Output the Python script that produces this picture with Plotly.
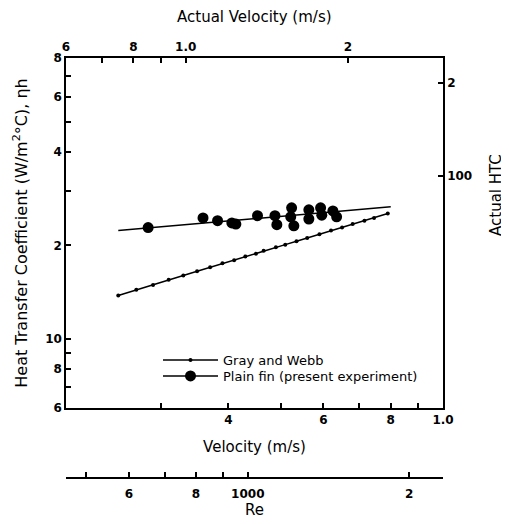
import math
import plotly.graph_objects as go

# ---------------- data ----------------
gw_v = [0.25, 0.27, 0.29, 0.31, 0.33, 0.35, 0.37, 0.39, 0.41, 0.43, 0.45, 0.465,
        0.49, 0.51, 0.535, 0.56, 0.59, 0.62, 0.65, 0.68, 0.715, 0.745, 0.79]
gw_h = [13.8, 14.4, 14.9, 15.5, 16.0, 16.5, 17.0, 17.5, 17.9, 18.4, 18.8, 19.2,
        19.7, 20.1, 20.6, 21.1, 21.7, 22.3, 22.8, 23.4, 24.0, 24.5, 25.3]

pf_v = [0.284, 0.359, 0.382, 0.406, 0.413, 0.453, 0.488, 0.492, 0.524, 0.522,
        0.529, 0.564, 0.564, 0.593, 0.596, 0.625, 0.635]
pf_h = [22.8, 24.5, 24.0, 23.6, 23.4, 24.9, 24.9, 23.3, 26.4, 24.7,
        23.1, 26.0, 24.3, 26.4, 25.0, 25.8, 24.7]

fit_v = [0.25, 0.80]
fit_h = [22.3, 26.6]

vel_ticks = [0.3, 0.4, 0.5, 0.6, 0.7, 0.8, 0.9, 1.0]
vel_labels = ["", "4", "", "6", "", "8", "", "1.0"]
act_vel_ticks = [0.6, 0.7, 0.8, 0.9, 1.0, 2.0, 3.0]
act_vel_labels = ["6", "", "8", "", "1.0", "2", ""]
htc_ticks = [6, 7, 8, 9, 10, 20, 30, 40, 50, 60, 70, 80]
htc_labels = ["6", "", "8", "", "10", "2", "", "4", "", "6", "", "8"]
act_htc_ticks = [100, 200]
act_htc_labels = ["100", "2"]
re_ticks = [500, 600, 700, 800, 900, 1000, 2000]
re_labels = ["", "6", "", "8", "", "1000", "2"]

vel_range = [0.2, 1.0]
act_vel_range = [0.6, 3.0]
htc_range = [6, 80]
act_htc_range = [18, 240]
re_range = [458, 2313]

# ---------------- figure ----------------
OFF = 8                      # page body margin of the browser
W, H = 509 - OFF, 524 - OFF
ml, mr, mt, mb = 60 - OFF, 66, 58 - OFF, 46
pw, ph = W - ml - mr, H - mt - mb
x_dom0 = 6 / pw
y_dom0 = (478 - 408) / ph


def px(X):   # reference pixel -> paper x
    return (X - 60) / pw


def py(Y):   # reference pixel -> paper y
    return (478 - Y) / ph


tickfont = dict(family="DejaVu Sans", size=12, color="black", weight="bold")
titlefont = dict(family="DejaVu Sans", size=15, color="black")

fig = go.Figure()

fig.add_trace(go.Scatter(
    x=gw_v, y=gw_h, mode="lines+markers", name="Gray and Webb",
    line=dict(color="black", width=1.5),
    marker=dict(color="black", size=4), legend="legend",
))
fig.add_trace(go.Scatter(
    x=fit_v, y=fit_h, mode="lines", showlegend=False,
    line=dict(color="black", width=1.5),
))
fig.add_trace(go.Scatter(
    x=pf_v, y=pf_h, mode="markers", showlegend=False,
    marker=dict(color="black", size=11),
))
# legend entry for the experiment (line + marker)
fig.add_trace(go.Scatter(
    x=[None], y=[None], mode="lines+markers",
    name="Plain fin (present experiment)",
    line=dict(color="black", width=1.5),
    marker=dict(color="black", size=11), legend="legend2",
))
# carriers for the secondary axes
fig.add_trace(go.Scatter(x=[None], y=[None], xaxis="x2", yaxis="y",
                         showlegend=False, hoverinfo="skip"))
fig.add_trace(go.Scatter(x=[None], y=[None], xaxis="x", yaxis="y2",
                         showlegend=False, hoverinfo="skip"))
fig.add_trace(go.Scatter(x=[None], y=[None], xaxis="x3", yaxis="y",
                         showlegend=False, hoverinfo="skip"))

axis_common = dict(type="log", showgrid=False, zeroline=False, showline=True,
                   linecolor="black", linewidth=1.5, ticks="inside",
                   ticklen=5, tickwidth=1.5, tickcolor="black",
                   tickfont=tickfont, tickmode="array")

legend_common = dict(xanchor="left", yanchor="top", bgcolor="rgba(0,0,0,0)",
                     font=dict(family="DejaVu Sans", size=13, color="black"),
                     itemwidth=55, tracegroupgap=0)

fig.update_layout(
    width=W, height=H,
    margin=dict(l=ml, r=mr, t=mt, b=mb, autoexpand=False),
    paper_bgcolor="white", plot_bgcolor="white",
    font=dict(family="DejaVu Sans", color="black"),
    xaxis=dict(**axis_common, domain=[x_dom0, 1], anchor="y",
               range=[math.log10(v) for v in vel_range],
               tickvals=vel_ticks, ticktext=vel_labels,
               title=dict(text="Velocity (m/s)", font=titlefont, standoff=15)),
    xaxis2=dict(**axis_common, overlaying="x", side="top", anchor="y",
                range=[math.log10(v) for v in act_vel_range],
                tickvals=act_vel_ticks, ticktext=act_vel_labels),
    xaxis3=dict(**axis_common, overlaying="x", side="bottom", anchor="free",
                position=0, ticklabelstandoff=5,
                range=[math.log10(v) for v in re_range],
                tickvals=re_ticks, ticktext=re_labels,
                title=dict(text="Re", font=titlefont, standoff=2)),
    yaxis=dict(**axis_common, domain=[y_dom0, 1], anchor="x",
               range=[math.log10(v) for v in htc_range],
               tickvals=htc_ticks, ticktext=htc_labels,
               title=dict(text="Heat Transfer Coefficient (W/m<sup>2</sup>°C), ηh",
                          font=dict(family="DejaVu Sans", size=16, color="black"),
                          standoff=14)),
    yaxis2=dict(**axis_common, overlaying="y", side="right", anchor="x",
                range=[math.log10(v) for v in act_htc_range],
                tickvals=act_htc_ticks, ticktext=act_htc_labels),
    legend=dict(**legend_common, x=px(158), y=py(345)),
    legend2=dict(**legend_common, x=px(158), y=py(361)),
    annotations=[
        dict(text="Actual Velocity (m/s)", xref="paper", yref="paper",
             x=px(254.5), y=py(17), showarrow=False, font=titlefont,
             xanchor="center", yanchor="middle"),
        dict(text="Actual HTC", xref="paper", yref="paper",
             x=px(496), y=py(195), textangle=-90,
             showarrow=False, font=titlefont, xanchor="center", yanchor="middle"),
    ],
    showlegend=True,
)

fig.write_html("out.html")
